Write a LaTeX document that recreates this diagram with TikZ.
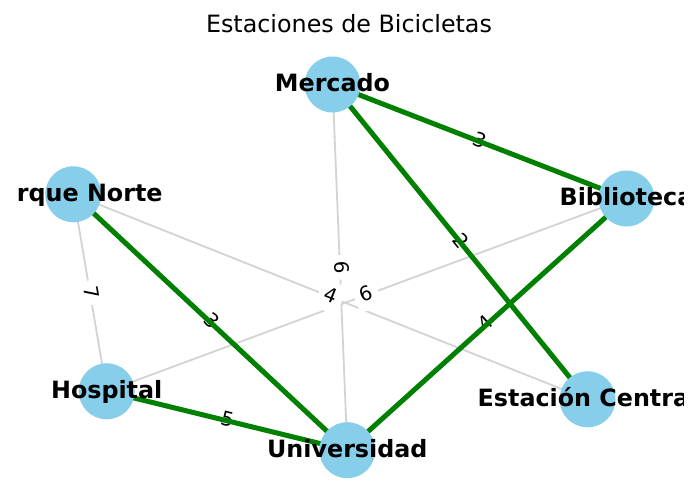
\documentclass[tikz,border=0pt]{standalone}
\usepackage{fontspec}
\setmainfont{DejaVu Sans}
\definecolor{edgegray}{RGB}{211,211,211}
\definecolor{mstgreen}{RGB}{0,128,0}
\definecolor{skyblue}{RGB}{135,206,235}
\begin{document}
\begin{tikzpicture}[x=1pt,y=-1pt,
  grayedge/.style={draw=edgegray, line width=1.8pt},
  greenedge/.style={draw=mstgreen, line width=5pt},
  lbl/.style={fill=white, rounded corners=5pt, inner xsep=6pt, inner ysep=6pt,
    text height=14.5pt, text depth=4pt, font=\fontsize{19.8}{20}\selectfont, text=black},
  stationdot/.style={circle, fill=skyblue, minimum size=56pt, inner sep=0pt},
  stationtxt/.style={anchor=base, inner sep=0pt, font=\fontsize{23.8}{24}\selectfont\bfseries},
  titletxt/.style={anchor=base, inner sep=0pt, font=\fontsize{23.8}{24}\selectfont}]
\useasboundingbox (0,0) rectangle (698,503);
\fill[white] (0,0) rectangle (698,503);
% positions
\coordinate (M) at (332.5,84.5);
\coordinate (B) at (626.5,198.5);
\coordinate (P) at (73.3,194.3);
\coordinate (H) at (106.7,391.3);
\coordinate (U) at (347.3,450.2);
\coordinate (E) at (587.5,399.3);
% title
\node[titletxt] (title) at (349,32.7) {Estaciones de Bicicletas};
% gray edges
\draw[grayedge] (M) -- (U);
\draw[grayedge] (P) -- (H);
\draw[grayedge] (P) -- (E);
\draw[grayedge] (H) -- (B);
% edge labels
\path (M) -- (B) node[lbl, pos=0.5, sloped] (l1) {3};
\path (M) -- (E) node[lbl, pos=0.5, sloped] (l2) {2};
\path (M) -- (U) node[lbl, pos=0.5, sloped] (l3) {6};
\path (P) -- (H) node[lbl, pos=0.5, sloped] (l4) {7};
\path (P) -- (U) node[lbl, pos=0.5, sloped] (l5) {3};
\path (P) -- (E) node[lbl, pos=0.5, sloped] (l6) {4};
\path (H) -- (U) node[lbl, pos=0.5, sloped] (l7) {5};
\path (H) -- (B) node[lbl, pos=0.5, sloped] (l8) {6};
\path (U) -- (B) node[lbl, pos=0.5, sloped] (l9) {4};
% green (MST) edges
\draw[greenedge] (M) -- (B);
\draw[greenedge] (M) -- (E);
\draw[greenedge] (P) -- (U);
\draw[greenedge] (H) -- (U);
\draw[greenedge] (U) -- (B);
% stations
\node[stationdot] (Mn) at (M) {};
\node[stationdot] (Bn) at (B) {};
\node[stationdot] (Pn) at (P) {};
\node[stationdot] (Hn) at (H) {};
\node[stationdot] (Un) at (U) {};
\node[stationdot] (En) at (E) {};
\begin{scope}
\clip (16.5,40) rectangle (683.5,503);
\node[stationtxt] (Mt) at ([yshift=-7pt]M) {Mercado};
\node[stationtxt] (Bt) at ([yshift=-7pt]B) {Biblioteca};
\node[stationtxt] (Pt) at ([yshift=-7pt]P) {Parque Norte};
\node[stationtxt] (Ht) at ([yshift=-7pt]H) {Hospital};
\node[stationtxt] (Ut) at ([yshift=-7pt]U) {Universidad};
\node[stationtxt] (Et) at ([yshift=-7pt]E) {Estación Central};
\end{scope}
\end{tikzpicture}
\end{document}
